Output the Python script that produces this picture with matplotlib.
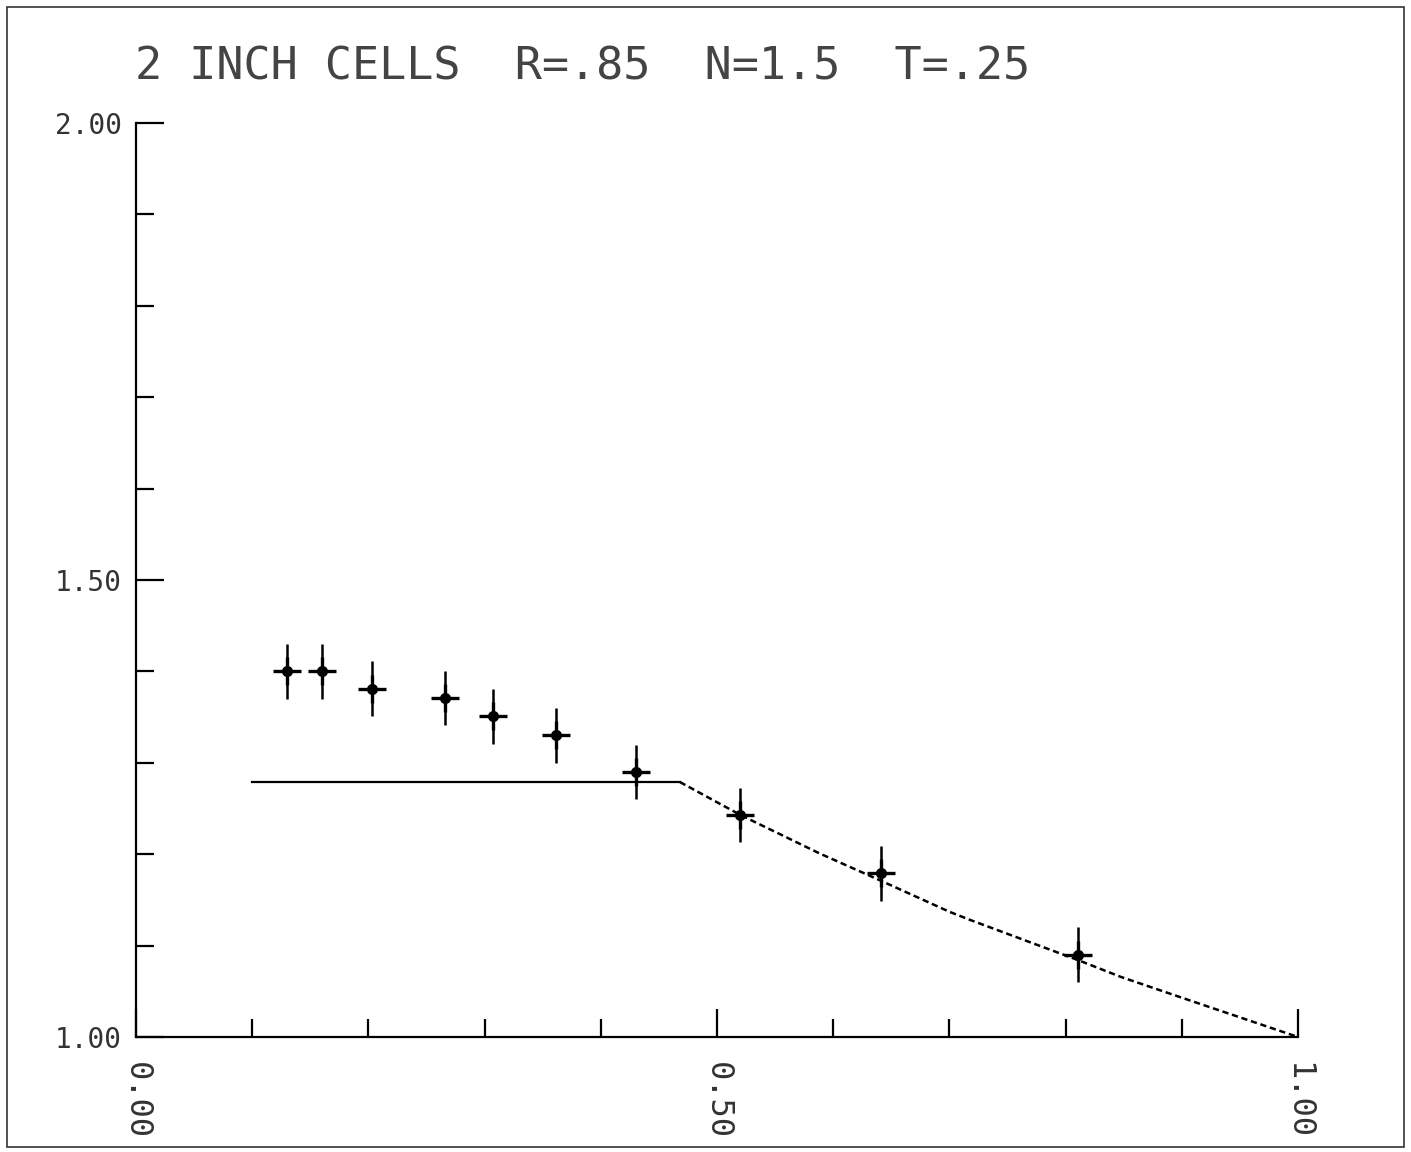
import matplotlib.pyplot as plt
from matplotlib.patches import Rectangle
from matplotlib.ticker import MultipleLocator, FixedLocator

# measured ratios
x_meas = [0.130, 0.160, 0.203, 0.266, 0.307, 0.361, 0.430, 0.520, 0.641, 0.811]
y_meas = [1.400, 1.400, 1.381, 1.371, 1.351, 1.330, 1.290, 1.243, 1.179, 1.090]
y_err = [0.03, 0.03, 0.03, 0.03, 0.03, 0.03, 0.03, 0.03, 0.03, 0.03]

# model: flat part then falling part
x_flat = [0.10, 0.468]
y_flat = [1.279, 1.279]
x_fall = [0.468, 0.520, 0.588, 0.641, 0.700, 0.718, 0.811, 0.847, 0.900, 1.000]
y_fall = [1.279, 1.243, 1.201, 1.171, 1.137, 1.128, 1.084, 1.066, 1.043, 1.000]

x_ticklabels = ['0.00', '0.50', '1.00']
y_ticklabels = ['1.00', '1.50', '2.00']
title = '2 INCH CELLS  R=.85  N=1.5  T=.25'


def main():
    plt.rcParams['font.family'] = ['DejaVu Sans Mono']
    fig = plt.figure(figsize=(14.11, 11.52), dpi=100)
    ax = fig.add_axes([0.0964, 0.0998, 0.8236, 0.7934])

    ax.plot(x_flat, y_flat, color='black', lw=1.6)
    ax.plot(x_fall, y_fall, color='black', lw=1.8, ls=(0, (2.5, 1.5)))

    ax.errorbar(x_meas, y_meas, yerr=y_err, fmt='+', color='black',
                ms=20, mew=2.4, elinewidth=1.8, capsize=0)
    ax.plot(x_meas, y_meas, 'o', color='black', ms=7)

    ax.set_xlim(0, 1)
    ax.set_ylim(1, 2)
    for s in ['top', 'right']:
        ax.spines[s].set_visible(False)
    for s in ['left', 'bottom']:
        ax.spines[s].set_linewidth(1.6)

    ax.xaxis.set_major_locator(FixedLocator([0, 0.5, 1]))
    ax.xaxis.set_minor_locator(MultipleLocator(0.1))
    ax.set_xticklabels(x_ticklabels, rotation=-90, fontsize=23, color='#333333')
    ax.yaxis.set_major_locator(FixedLocator([1, 1.5, 2]))
    ax.yaxis.set_minor_locator(MultipleLocator(0.1))
    ax.set_yticklabels(y_ticklabels, fontsize=20, color='#333333')
    ax.tick_params(which='major', direction='in', length=20, width=1.6)
    ax.tick_params(axis='x', which='major', pad=18)
    ax.tick_params(axis='y', which='major', pad=10)
    ax.tick_params(which='minor', direction='in', length=13, width=1.6)

    fig.text(0.096, 0.942, title, fontsize=32.5, ha='left', va='center',
             color='#444444')

    # frame round the page
    fig.patches.append(Rectangle((0.005, 0.004), 0.99, 0.99, transform=fig.transFigure,
                                 fill=False, ec='#333333', lw=1.2))

    fig.savefig('out.png', dpi=100)


if __name__ == '__main__':
    main()
